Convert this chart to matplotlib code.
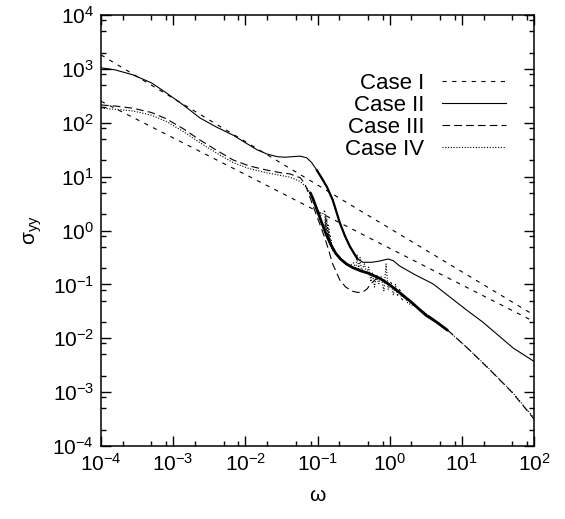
import numpy as np
import matplotlib
matplotlib.use("Agg")
import matplotlib.pyplot as plt
from matplotlib.ticker import LogLocator, NullFormatter

plt.rcParams['font.family'] = ['Liberation Sans', 'DejaVu Sans']
plt.rcParams['mathtext.fontset'] = 'custom'
plt.rcParams['mathtext.rm'] = 'Liberation Sans'
plt.rcParams['mathtext.it'] = 'Liberation Sans'
plt.rcParams['axes.unicode_minus'] = False
plt.rcParams['lines.scale_dashes'] = False

# log10(omega), log10(sigma_yy)
case1_upper_w = [-4.0, -2.0, 0.0, 2.0]
case1_upper_s = [3.26, 1.65, 0.04, -1.57]
case1_lower_w = [-4.0, -2.0, 0.0, 2.0]
case1_lower_s = [2.40, 1.04, -0.33, -1.69]

case2_w = [-4.0, -3.80, -3.56, -3.30, -3.09, -2.85, -2.63, -2.40, -2.17, -2.00, -1.84,
           -1.70, -1.56, -1.45, -1.35, -1.24, -1.15, -1.08, -1.01, -0.94, -0.87, -0.79,
           -0.69, -0.62, -0.55, -0.45, -0.37, -0.25, -0.15, -0.09, -0.02, 0.05, 0.14,
           0.35, 0.60, 0.83, 1.05, 1.29, 1.50, 1.71, 2.0]
case2_s = [3.02, 2.98, 2.89, 2.74, 2.55, 2.32, 2.09, 1.92, 1.77, 1.63, 1.50,
           1.42, 1.37, 1.36, 1.37, 1.38, 1.35, 1.26, 1.12, 0.97, 0.81, 0.57,
           0.14, -0.10, -0.30, -0.52, -0.59, -0.59, -0.57, -0.55, -0.53, -0.56, -0.66,
           -0.82, -0.99, -1.23, -1.46, -1.70, -1.94, -2.18, -2.43]

case3_w = [-4.0, -3.80, -3.56, -3.30, -3.09, -2.85, -2.63, -2.40, -2.17, -1.95, -1.70,
           -1.50, -1.38, -1.24, -1.18, -1.15, -1.10, -1.06, -0.99, -0.93, -0.86, -0.79,
           -0.69, -0.61, -0.51, -0.44, -0.37, -0.31, -0.27, -0.19, -0.10, 0.04, 0.20,
           0.38, 0.60, 0.83, 1.10, 1.39, 1.70, 2.0]
case3_s = [2.33, 2.31, 2.27, 2.19, 2.07, 1.88, 1.68, 1.49, 1.31, 1.20, 1.12,
           1.07, 1.05, 0.98, 0.88, 0.78, 0.60, 0.45, 0.20, -0.02, -0.30, -0.62,
           -0.92, -1.05, -1.13, -1.15, -1.14, -1.08, -1.00, -0.90, -0.93, -1.06, -1.24,
           -1.43, -1.64, -1.88, -2.21, -2.59, -3.01, -3.50]

case4_w = [-4.0, -3.80, -3.56, -3.30, -3.09, -2.85, -2.63, -2.40, -2.17, -1.95, -1.70,
           -1.50, -1.38, -1.24, -1.15, -1.10, -1.05, -1.00, -0.96,
           -0.93, -0.90, -0.895, -0.885, -0.88, -0.87, -0.865, -0.855, -0.85, -0.84,
           -0.835, -0.825, -0.82, -0.81, -0.80, -0.76, -0.70, -0.65,
           -0.55, -0.50, -0.47, -0.45, -0.43, -0.41, -0.39, -0.35, -0.32, -0.29, -0.26,
           -0.24, -0.21, -0.18, -0.15, -0.12, -0.08, -0.05, -0.02, 0.02, 0.05, 0.08,
           0.11, 0.14, 0.17, 0.21, 0.25, 0.38, 0.60, 0.83, 1.10, 1.39, 1.70, 2.0]
case4_s = [2.27, 2.25, 2.22, 2.14, 2.02, 1.83, 1.63, 1.44, 1.26, 1.15, 1.07,
           1.02, 0.99, 0.91, 0.80, 0.69, 0.55, 0.40, 0.28,
           0.30, 0.38, 0.05, 0.30, 0.00, 0.22, -0.08, 0.12, -0.15, 0.02,
           -0.22, -0.08, -0.30, -0.18, -0.36, -0.40, -0.50, -0.57,
           -0.66, -0.60, -0.72, -0.45, -0.74, -0.50, -0.76, -0.62, -0.80, -0.68, -0.95,
           -0.78, -1.05, -0.82, -0.99, -0.85, -1.12, -0.62, -1.10, -0.95, -1.20, -1.00,
           -1.22, -1.08, -1.30, -1.22, -1.35, -1.42, -1.64, -1.88, -2.21, -2.58, -3.00, -3.48]

# dense core of the lower family (curves overlapping plus fine noise)
band_w = [-1.10, -1.06, -1.00, -0.94, -0.88, -0.82, -0.75, -0.68, -0.60, -0.51, -0.40,
          -0.30, -0.20, -0.12, -0.02, 0.08, 0.20, 0.30, 0.40, 0.50, 0.65, 0.80]
band_s = [0.70, 0.58, 0.36, 0.14, -0.07, -0.25, -0.42, -0.53, -0.62, -0.69, -0.75,
          -0.79, -0.85, -0.90, -0.99, -1.09, -1.22, -1.33, -1.45, -1.57, -1.70, -1.85]

labels = ['Case I', 'Case II', 'Case III', 'Case IV']


def pw(a):
    return 10.0 ** np.asarray(a)


fig = plt.figure(figsize=(5.65, 5.19), dpi=100)
ax = fig.add_axes([101 / 565, 1 - 446 / 519, 433 / 565, 431 / 519])

lw = 0.8
ax.plot(pw(case1_upper_w), pw(case1_upper_s), color='k', lw=lw, dashes=(3, 4), label=labels[0])
ax.plot(pw(case1_lower_w), pw(case1_lower_s), color='k', lw=lw, dashes=(3, 4))
ax.plot(pw(case2_w), pw(case2_s), color='k', lw=lw, label=labels[1])
ax.plot(pw(case3_w), pw(case3_s), color='k', lw=lw, dashes=(5.5, 3), label=labels[2])
ax.plot(pw(case4_w), pw(case4_s), color='k', lw=lw, dashes=(0.8, 1.2), label=labels[3])
ax.plot(pw(band_w), pw(band_s), color='k', lw=2.0, solid_capstyle='round')

# the steep drop of Case II is drawn heavier where two runs overlap
c2w = np.array(case2_w)
m = (c2w >= -1.02) & (c2w <= -0.44)
ax.plot(pw(c2w[m]), pw(np.array(case2_s)[m]), color='k', lw=1.6)

ax.set_xscale('log')
ax.set_yscale('log')
ax.set_xlim(1e-4, 1e2)
ax.set_ylim(1e-4, 1e4)

for axis in (ax.xaxis, ax.yaxis):
    axis.set_major_locator(LogLocator(base=10, numticks=20))
    axis.set_minor_locator(LogLocator(base=10, subs=[2, 5, 8], numticks=20))
    axis.set_minor_formatter(NullFormatter())

ax.tick_params(which='both', direction='in', top=True, right=True, width=1.0)
ax.tick_params(which='major', length=7.5, labelsize=15, pad=5)
ax.tick_params(which='minor', length=3.8)
for sp in ax.spines.values():
    sp.set_linewidth(1.1)

ax.set_xlabel('ω', fontsize=15, labelpad=8)
ax.set_ylabel('σ$_{\\mathregular{yy}}$', fontsize=15, labelpad=6)

# handles sit after the labels, so the rows come out right-aligned
ax.legend(loc='upper right', bbox_to_anchor=(0.972, 0.902), frameon=False,
          markerfirst=False, fontsize=16, handlelength=2.9, handletextpad=0.8,
          labelspacing=0.05, borderpad=0.2)

fig.savefig('out.png', dpi=100)
